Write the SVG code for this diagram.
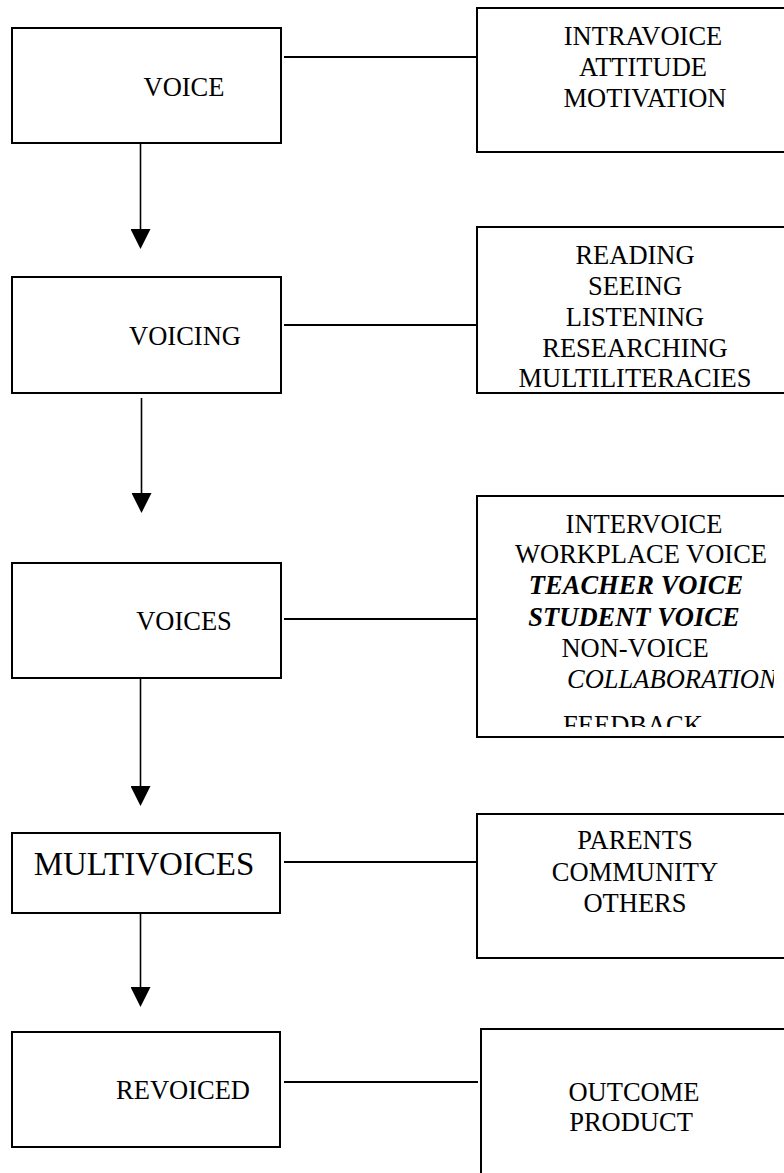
<svg xmlns="http://www.w3.org/2000/svg" width="784" height="1173" viewBox="0 0 784 1173">
<style>
.box{fill:#fff;stroke:#000;stroke-width:2}
.t{font-family:"Liberation Serif","Times New Roman",serif;font-size:26.5px;fill:#000;text-anchor:middle}
.bi{font-weight:bold;font-style:italic}
.it{font-style:italic}
.c{stroke:#000;stroke-width:2;fill:none}
.a{stroke:#000;stroke-width:1.6;fill:none;marker-end:url(#ah)}
</style>
<defs>
<marker id="ah" markerUnits="userSpaceOnUse" viewBox="0 0 20 20" markerWidth="20" markerHeight="20" refX="1" refY="10" orient="auto">
<path d="M0,0 L20,10 L0,20 z" fill="#000"/>
</marker>
<clipPath id="clip3"><rect x="478" y="497" width="296" height="230"/></clipPath>
</defs>
<rect width="784" height="1173" fill="#fff"/>

<g id="connectors">
<line class="c" x1="284" y1="57" x2="477" y2="57"/>
<line class="c" x1="284" y1="325" x2="477" y2="325"/>
<line class="c" x1="284" y1="619" x2="477" y2="619"/>
<line class="c" x1="284" y1="862" x2="477" y2="862"/>
<line class="c" x1="284" y1="1082" x2="478" y2="1082"/>
<line class="a" x1="140.5" y1="144" x2="140.5" y2="230"/>
<line class="a" x1="141.5" y1="398" x2="141.5" y2="494"/>
<line class="a" x1="140.5" y1="678" x2="140.5" y2="787"/>
<line class="a" x1="140.5" y1="914" x2="140.5" y2="988"/>
</g>

<g id="voice">
<rect class="box" x="12" y="28" width="269" height="115"/>
<text class="t" x="184" y="96">VOICE</text>
</g>
<g id="voice-detail">
<rect class="box" x="477" y="8" width="320" height="144"/>
<text class="t" x="643" y="45">INTRAVOICE</text>
<text class="t" x="643" y="76">ATTITUDE</text>
<text class="t" x="645" y="107">MOTIVATION</text>
</g>

<g id="voicing">
<rect class="box" x="12" y="277" width="269" height="116"/>
<text class="t" x="185" y="345">VOICING</text>
</g>
<g id="voicing-detail">
<rect class="box" x="477" y="227" width="320" height="166"/>
<text class="t" x="635" y="264">READING</text>
<text class="t" x="635" y="295">SEEING</text>
<text class="t" x="635" y="326">LISTENING</text>
<text class="t" x="635" y="357">RESEARCHING</text>
<text class="t" x="635" y="387">MULTILITERACIES</text>
</g>

<g id="voices">
<rect class="box" x="12" y="563" width="269" height="115"/>
<text class="t" x="184" y="630">VOICES</text>
</g>
<g id="voices-detail">
<rect class="box" x="477" y="496" width="320" height="241"/>
<g clip-path="url(#clip3)">
<text class="t" x="644" y="533">INTERVOICE</text>
<text class="t" x="641" y="563">WORKPLACE VOICE</text>
<text class="t bi" x="636" y="594">TEACHER VOICE</text>
<text class="t bi" x="634" y="626">STUDENT VOICE</text>
<text class="t" x="635" y="657">NON-VOICE</text>
<text class="t it" x="567" y="688" style="text-anchor:start">COLLABORATION</text>
<text class="t" x="633" y="734">FEEDBACK</text>
</g>
</g>

<g id="multivoices">
<rect class="box" x="12" y="833" width="268" height="80"/>
<text class="t" x="144" y="875" style="font-size:33px">MULTIVOICES</text>
</g>
<g id="multivoices-detail">
<rect class="box" x="477" y="814" width="320" height="144"/>
<text class="t" x="635" y="849">PARENTS</text>
<text class="t" x="635" y="881">COMMUNITY</text>
<text class="t" x="635" y="912">OTHERS</text>
</g>

<g id="revoiced">
<rect class="box" x="12" y="1032" width="268" height="115"/>
<text class="t" x="183" y="1099">REVOICED</text>
</g>
<g id="revoiced-detail">
<rect class="box" x="481" y="1029" width="320" height="160"/>
<text class="t" x="634" y="1101">OUTCOME</text>
<text class="t" x="631" y="1131">PRODUCT</text>
</g>
</svg>
